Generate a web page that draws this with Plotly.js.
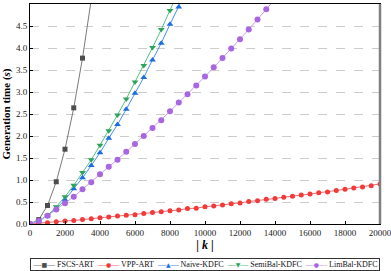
<!DOCTYPE html>
<html><head><meta charset="utf-8">
<script src="https://cdn.plot.ly/plotly-3.0.1.min.js"></script>
<style>html,body{margin:0;padding:0;background:#fff;}#chart{width:391px;height:271px;}</style>
</head><body><div id="chart"></div>
<script>
const kFSCS = [0,500,1000,1500,2000,2500,3000,3500];
const tFSCS = [0.00,0.10,0.42,0.96,1.70,2.64,3.77,5.10];

const kVPP = [0,500,1000,1500,2000,2500,3000,3500,4000,4500,5000,5500,6000,6500,7000,7500,8000,8500,9000,9500,10000,10500,11000,11500,12000,12500,13000,13500,14000,14500,15000,15500,16000,16500,17000,17500,18000,18500,19000,19500,20000];
const tVPP = [0.00,0.02,0.03,0.05,0.07,0.08,0.10,0.12,0.14,0.16,0.18,0.20,0.21,0.24,0.26,0.28,0.30,0.32,0.35,0.36,0.39,0.41,0.43,0.46,0.48,0.51,0.53,0.56,0.58,0.61,0.63,0.66,0.68,0.71,0.73,0.76,0.79,0.82,0.84,0.87,0.91];

const kNaive = [0,500,1000,1500,2000,2500,3000,3500,4000,4500,5000,5500,6000,6500,7000,7500,8000,8500,9000];
const tNaive = [0.00,0.07,0.19,0.35,0.55,0.80,1.05,1.33,1.62,1.95,2.26,2.61,2.97,3.33,3.73,4.11,4.54,4.93,5.35];

const kSemi = [0,500,1000,1500,2000,2500,3000,3500,4000,4500,5000,5500,6000,6500,7000,7500,8000,8500];
const tSemi = [0.00,0.07,0.19,0.39,0.62,0.88,1.17,1.46,1.79,2.12,2.48,2.84,3.23,3.60,4.01,4.42,4.85,5.30];

const kLim = [0,500,1000,1500,2000,2500,3000,3500,4000,4500,5000,5500,6000,6500,7000,7500,8000,8500,9000,9500,10000,10500,11000,11500,12000,12500,13000,13500,14000];
const tLim = [0.00,0.07,0.19,0.33,0.47,0.62,0.79,0.95,1.13,1.30,1.46,1.64,1.82,2.00,2.18,2.36,2.56,2.76,2.95,3.15,3.35,3.56,3.77,3.99,4.20,4.42,4.65,4.88,5.11];

const seriesNames = ['FSCS-ART','VPP-ART','Naive-KDFC','SemiBal-KDFC','LimBal-KDFC'];
const xTicks = [0,2000,4000,6000,8000,10000,12000,14000,16000,18000,20000];
const yTicks = [0.0,0.5,1.0,1.5,2.0,2.5,3.0,3.5,4.0,4.5,5.0];

const styles = [
  {sym:'square', m:'#4d4d4d', l:'#7a7a7a', s:5, g:'■'},
  {sym:'circle', m:'#f23a3a', l:'#f26b6b', s:5, g:'●'},
  {sym:'triangle-up', m:'#1a6de0', l:'#4a8ef0', s:6, g:'▲'},
  {sym:'triangle-down', m:'#2ea35a', l:'#55c07e', s:6, g:'▼'},
  {sym:'circle', m:'#a866e0', l:'#c79ef0', s:6, g:'●'}
];
const xs = [kFSCS,kVPP,kNaive,kSemi,kLim];
const ys = [tFSCS,tVPP,tNaive,tSemi,tLim];

const data = seriesNames.map((n,i)=>({type:'scatter', mode:'lines+markers', name:n, x:xs[i], y:ys[i],
  line:{color:styles[i].l, width:1}, marker:{symbol:styles[i].sym, color:styles[i].m, size:styles[i].s},
  cliponaxis:true, showlegend:false}));

const serif = '"Liberation Serif", "Times New Roman", serif';
const tickFont = {family:serif, size:9, color:'#222'};
const legendText = seriesNames.map((n,i)=>
  '<span style="color:'+styles[i].l+'">—</span><span style="color:'+styles[i].m+';font-family:DejaVu Sans;font-size:6px">'+styles[i].g+'</span><span style="color:'+styles[i].l+'">—</span> '+n
).join('&nbsp;&nbsp;');

const layout = {
  width:391, height:271,
  margin:{l:30, r:11, t:4, b:47},
  paper_bgcolor:'#fff', plot_bgcolor:'#fff',
  font:{family:serif, size:9, color:'#111'},
  showlegend:false,
  xaxis:{range:[0,20000], tickvals:xTicks, ticktext:xTicks.map(String), showgrid:false, zeroline:false,
    showline:true, linecolor:'#000', linewidth:1, mirror:true, ticks:'inside', ticklen:3, tickcolor:'#000',
    tickfont:tickFont, ticklabeloverflow:'allow',
    title:{text:'<b>| <i>k</i> |</b>', font:{family:serif, size:12, color:'#000'}, standoff:1}},
  yaxis:{range:[0,5], tickvals:yTicks, ticktext:yTicks.map(v=>v.toFixed(1)), showgrid:true, gridcolor:'#cccccc', griddash:'dash', gridwidth:1,
    zeroline:false, showline:true, linecolor:'#000', linewidth:1, mirror:true, ticks:'inside', ticklen:3, tickcolor:'#000',
    tickfont:tickFont,
    title:{text:'<b>Generation time (<i>s</i>)</b>', font:{family:serif, size:11, color:'#000'}, standoff:4}},
  annotations:[{xref:'paper', yref:'paper', x:0.5, y:-0.183, xanchor:'center', yanchor:'middle', showarrow:false,
    text:legendText, font:{family:serif, size:8, color:'#111'}, bordercolor:'#333', borderwidth:1, borderpad:1,
    bgcolor:'#fff', width:346, align:'center'}],
  shapes:[{type:'line', xref:'paper', yref:'paper', x0:1, x1:1, y0:0, y1:1, line:{color:'#808080', width:2.5}}]
};
Plotly.newPlot('chart', data, layout, {staticPlot:true, displayModeBar:false});
</script></body></html>
